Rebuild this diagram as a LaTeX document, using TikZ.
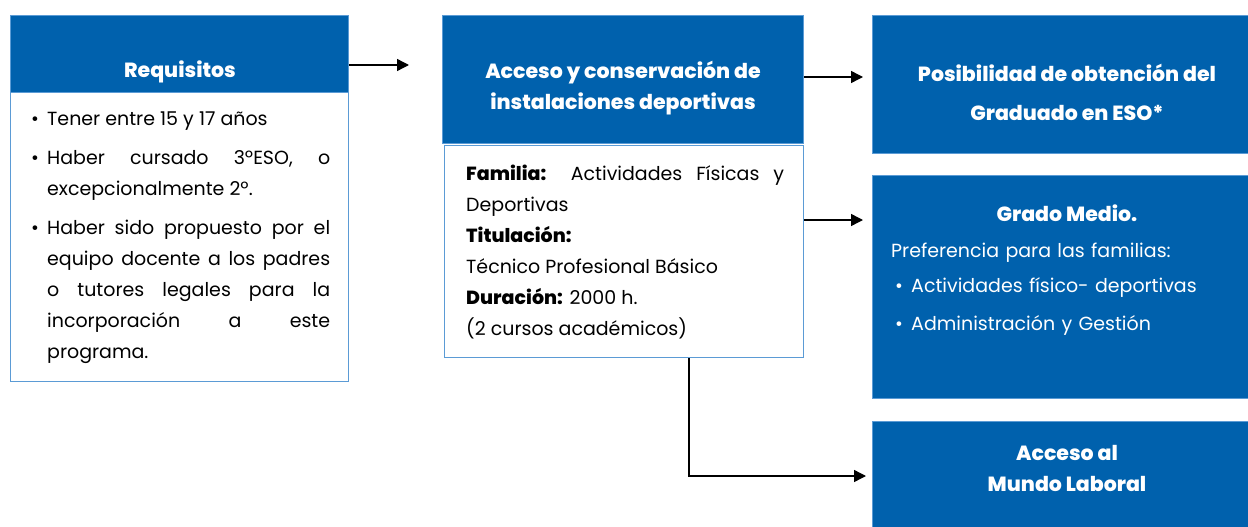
\documentclass[tikz,border=0pt]{standalone}
\usepackage{fontspec}
\setmainfont{Poppins}[BoldFont={Poppins ExtraBold}]
\usetikzlibrary{arrows.meta,positioning}
\definecolor{boxblue}{HTML}{0061AD}
\definecolor{edgeblue}{HTML}{5B9BD5}
\newcommand{\bul}[2][0pt]{\par\hangindent=\dimexpr#1+16pt\relax\hangafter=1\noindent\hspace*{#1}\hbox to 16pt{\textbullet\hfil}#2\par}
\tikzset{
    headbox/.style ={
        draw=edgeblue,
        fill=boxblue,
        line width=1pt,
        anchor=north west,
        inner sep=0pt
    },
    bodybox/.style ={
        draw=edgeblue,
        fill=white,
        line width=1pt,
        anchor=north west,
        inner sep=0pt
    },
    headtext/.style ={
        text=white,
        font=\bfseries\fontsize{20.5}{31}\selectfont,
        align=center,
        inner sep=0pt
    },
    bodytext/.style ={
        font=\fontsize{19}{31}\selectfont,
        align=justify,
        anchor=north west,
        inner sep=0pt
    },
    arr/.style ={
        line width=1.4pt,
        -{Triangle[length=12pt,width=12pt]}
    }
}

\begin{document}
\begin{tikzpicture}[x=1pt,y=-1pt]
    \useasboundingbox (0,0) rectangle (1248,527);
    % left column
    \node[headbox, minimum width=338pt, minimum height=77pt] (req) at(10,15) {};
    \node[bodybox, minimum width=338pt, minimum height=289pt] (reqbody) at(10,92) {};
    \node[headtext] (reqt) at(180,72) {Requisitos};
    \node[bodytext, text width=299pt] (reqlist) at(31,86) {\setlength{\parskip}{8pt}%
        \bul{Tener entre 15 y 17 años}%
        \bul{Haber cursado 3ºESO, o\linebreak excepcionalmente 2º.}%
        \bul{Haber sido propuesto por el\linebreak equipo docente a los padres\linebreak o tutores legales para la\linebreak incorporación a este\linebreak programa.}};
    % middle column
    \node[headbox, minimum width=361pt, minimum height=128pt] (acc) at(442,15) {};
    \node[bodybox, minimum width=359pt, minimum height=212pt] (accbody) at(444,145) {};
    \node[headtext] (acct) at(623,88) {Acceso y conservación de\\instalaciones deportivas};
    \node[bodytext, text width=318pt] (accinfo) at(466,165) {%
        \textbf{Familia:} Actividades Físicas y\linebreak Deportivas\\
        \textbf{Titulación:}\\
        Técnico Profesional Básico\\
        \textbf{Duración:} 2000 h.\\
        (2 cursos académicos)};
    % right column
    \node[headbox, minimum width=376pt, minimum height=138pt] (eso) at(872,15) {};
    \node[headbox, minimum width=376pt, minimum height=223pt] (gm) at(872,175) {};
    \node[headbox, minimum width=376pt, minimum height=106pt] (ml) at(872,421) {};
    \node[headtext, font=\bfseries\fontsize{20.5}{39}\selectfont] (esot) at(1067,92) {Posibilidad de obtención del\\Graduado en ESO*};
    \node[headtext] (gmt) at(1067,213) {Grado Medio.};
    \node[bodytext, text=white, text width=340pt, align=left, font=\fontsize{19}{35}\selectfont] (gminfo) at(891,243) {\setlength{\parskip}{0pt}%
        \noindent Preferencia para las familias:\par
        \bul[4pt]{Actividades físico- deportivas}\vspace{3pt}%
        \bul[4pt]{Administración y Gestión}};
    \node[headtext] (mlt) at(1067,468) {Acceso al\\Mundo Laboral};
    % connectors
    \coordinate (a1) at(409,65);
    \coordinate (a2) at(863,77);
    \coordinate (a3) at(863,220);
    \coordinate (a4) at(866,476);
    \coordinate (k4) at(689,476);
    \draw[arr] (req.east |- a1) -- (a1);
    \draw[arr] (acc.east |- a2) -- (a2);
    \draw[arr] (accbody.east |- a3) -- (a3);
    \draw[arr] (accbody.south -| k4) |- (a4);
\end{tikzpicture}
\end{document}
